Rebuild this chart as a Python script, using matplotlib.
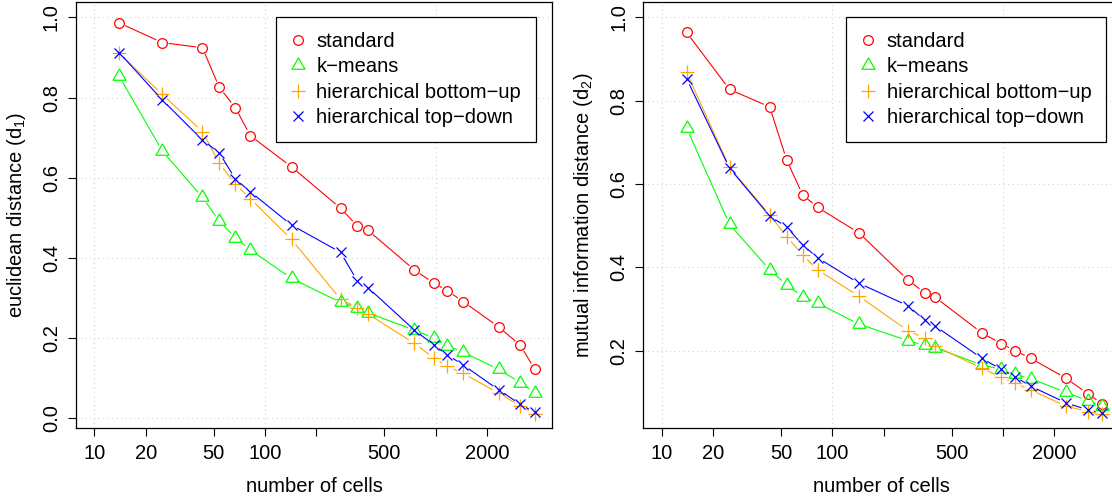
import numpy as np
import matplotlib
matplotlib.use("Agg")
import matplotlib.pyplot as plt

plt.rcParams['font.family'] = ['Liberation Sans', 'DejaVu Sans']
plt.rcParams['mathtext.fontset'] = 'custom'
plt.rcParams['mathtext.rm'] = 'Liberation Sans'
plt.rcParams['mathtext.it'] = 'Liberation Sans:italic'

#%% data
n_cells = [14, 25, 43, 54, 67, 82, 143, 277, 347, 401, 750, 976, 1172, 1449, 2336, 3133, 3794]
series_names = ["standard", "k\u2212means", "hierarchical bottom\u2212up", "hierarchical top\u2212down"]

# euclidean distance (d1)
d1_standard = [0.986, 0.937, 0.924, 0.825, 0.775, 0.705, 0.627, 0.524, 0.480, 0.469,
               0.370, 0.337, 0.318, 0.291, 0.228, 0.182, 0.123]
d1_kmeans = [0.853, 0.667, 0.551, 0.492, 0.450, 0.420, 0.349, 0.289, 0.276, 0.263,
             0.220, 0.200, 0.181, 0.165, 0.122, 0.089, 0.064]
d1_bottomup = [0.910, 0.808, 0.715, 0.636, 0.584, 0.548, 0.446, 0.297, 0.276, 0.260,
               0.187, 0.150, 0.130, 0.112, 0.063, 0.031, 0.012]
d1_topdown = [0.912, 0.794, 0.694, 0.662, 0.597, 0.565, 0.482, 0.414, 0.343, 0.326,
              0.220, 0.183, 0.158, 0.133, 0.071, 0.035, 0.015]

# mutual information distance (d2)
d2_standard = [0.964, 0.827, 0.785, 0.658, 0.574, 0.544, 0.483, 0.370, 0.339, 0.328,
               0.243, 0.217, 0.200, 0.182, 0.134, 0.097, 0.073]
d2_kmeans = [0.735, 0.503, 0.394, 0.358, 0.330, 0.314, 0.264, 0.224, 0.213, 0.207,
             0.166, 0.155, 0.144, 0.133, 0.100, 0.080, 0.068]
d2_bottomup = [0.868, 0.640, 0.526, 0.474, 0.430, 0.394, 0.331, 0.248, 0.230, 0.211,
               0.158, 0.136, 0.122, 0.106, 0.067, 0.054, 0.047]
d2_topdown = [0.853, 0.638, 0.523, 0.497, 0.454, 0.423, 0.362, 0.308, 0.274, 0.259,
              0.182, 0.155, 0.138, 0.115, 0.075, 0.058, 0.050]

x_ticks = [10, 20, 50, 100, 200, 500, 1000, 2000]
x_labels = ["10", "20", "50", "100", "", "500", "", "2000"]

colors = ['#FF0000', '#00FF00', '#FFA500', '#0000FF']
markers = ['o', (3, 0, 0), '+', 'x']
msizes = [7, 10.9, 9.9, 7]
FS = 14.5
GAP = 6.5  # pixels, like R type="b"


def plot_b(ax, x, y, color, marker, ms, label):
    # line broken around each point, then the points
    pts = ax.transData.transform(np.column_stack([x, y]))
    inv = ax.transData.inverted()
    for p0, p1 in zip(pts[:-1], pts[1:]):
        d = p1 - p0
        L = np.hypot(d[0], d[1])
        if L <= 2 * GAP:
            continue
        u = d / L
        seg = inv.transform(np.array([p0 + u * GAP, p1 - u * GAP]))
        ax.plot(seg[:, 0], seg[:, 1], color=color, lw=0.8, solid_capstyle='butt')
    ax.plot(x, y, linestyle='none', marker=marker, ms=ms, mec=color, mfc='none',
            mew=0.9, color=color, label=label)


def setup_axes(ax, ylim, yticks, ylabel):
    ax.set_xscale('log')
    ax.set_xlim(7.815, 4800)
    ax.set_ylim(*ylim)
    ax.minorticks_off()
    ax.set_xticks(x_ticks, x_labels)
    ax.set_yticks(yticks, ["%.1f" % t for t in yticks])
    for lbl in ax.get_yticklabels():
        lbl.set_rotation(90)
        lbl.set_va('center')
    ax.tick_params(axis='both', direction='out', length=5.7, width=0.8, labelsize=FS)
    ax.tick_params(axis='x', pad=5.5)
    ax.tick_params(axis='y', pad=5.2)
    for t in [10, 100, 1000]:
        ax.axvline(t, color='#D3D3D3', lw=0.8, ls=(0, (1, 3)), zorder=0)
    for t in np.arange(0, 1.01, 0.2):
        ax.axhline(t, color='#D3D3D3', lw=0.8, ls=(0, (1, 3)), zorder=0)
    for s in ax.spines.values():
        s.set_linewidth(0.9)
    ax.set_xlabel("number of cells", fontsize=FS, labelpad=10)
    ax.set_ylabel(ylabel, fontsize=FS, labelpad=10)


fig = plt.figure(figsize=(11.12, 4.99), dpi=100)
ax1 = fig.add_axes([0.06835, 0.14168, 0.42806, 0.85491])
ax2 = fig.add_axes([0.57851, 0.14168, 0.42806, 0.85491])

setup_axes(ax1, (-0.0249, 1.0389), [0.0, 0.2, 0.4, 0.6, 0.8, 1.0], "euclidean distance (d$_\\mathrm{1}$)")
setup_axes(ax2, (0.0137, 1.0375), [0.2, 0.4, 0.6, 0.8, 1.0], "mutual information distance (d$_\\mathrm{2}$)")

for ys, c, m, ms, name in zip([d1_standard, d1_kmeans, d1_bottomup, d1_topdown], colors, markers, msizes, series_names):
    plot_b(ax1, n_cells, ys, c, m, ms, name)
for ys, c, m, ms, name in zip([d2_standard, d2_kmeans, d2_bottomup, d2_topdown], colors, markers, msizes, series_names):
    plot_b(ax2, n_cells, ys, c, m, ms, name)

for ax, xr in [(ax1, 535.7), (ax2, 1106)]:
    leg = ax.legend(loc='upper right', bbox_to_anchor=(xr / 1112, 1 - 17.3 / 499),
                    bbox_transform=fig.transFigure, fontsize=FS, frameon=True, fancybox=False,
                    edgecolor='black', framealpha=1, borderpad=0.72, handlelength=0.74,
                    handletextpad=0.55, labelspacing=0.32, borderaxespad=0)
    leg.get_frame().set_linewidth(0.9)

fig.savefig("out.png", dpi=100)
